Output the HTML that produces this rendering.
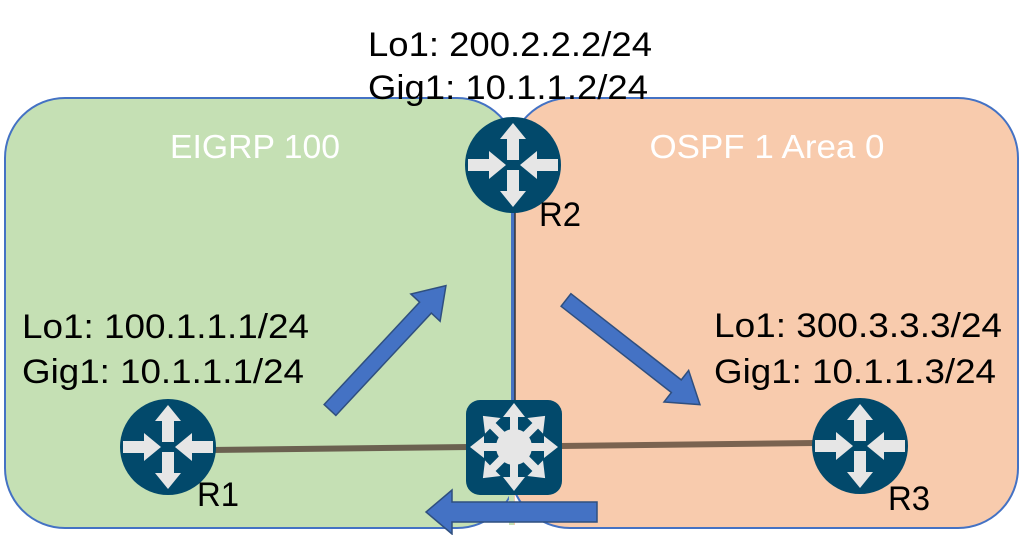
<!DOCTYPE html>
<html><head><meta charset="utf-8"><style>
html,body{margin:0;padding:0;background:#fff;width:1023px;height:535px;overflow:hidden}
svg text{font-family:"Liberation Sans",sans-serif}
</style></head><body>
<svg width="1023" height="535" viewBox="0 0 1023 535" xmlns="http://www.w3.org/2000/svg">
<defs>
<g id="rt">
<circle r="48" fill="#02496b"/>
<g fill="#e6e6e6">
<polygon points="0,-42 -13,-26 -6,-26 -6,-5 6,-5 6,-26 13,-26"/>
<polygon points="0,42 -13,26 -6,26 -6,5 6,5 6,26 13,26"/>
<polygon points="-7,0 -24,-14 -24,-6 -45,-6 -45,6 -24,6 -24,14"/>
<polygon points="7,0 24,-14 24,-6 45,-6 45,6 24,6 24,14"/>
</g>
</g>
</defs>
<rect x="5" y="98" width="512" height="430" rx="60" fill="#c5e0b4" stroke="#4472c4" stroke-width="2"/>
<rect x="510" y="98" width="508" height="430" rx="60" fill="#f8cbad" stroke="#4472c4" stroke-width="2"/>
<rect x="509" y="150" width="6" height="375" fill="#f8cbad"/>
<rect x="509" y="150" width="5" height="375" fill="#c5e0b4"/>
<text x="255" y="158" font-size="33" fill="#fff" text-anchor="middle" textLength="170" lengthAdjust="spacingAndGlyphs">EIGRP 100</text>
<text x="767" y="158" font-size="33" fill="#fff" text-anchor="middle" textLength="235" lengthAdjust="spacingAndGlyphs">OSPF 1 Area 0</text>
<line x1="513" y1="200" x2="513" y2="405" stroke="#4472c4" stroke-width="4"/>
<line x1="515" y1="200" x2="515" y2="405" stroke="#333" stroke-width="1.5"/>
<line x1="210" y1="450" x2="470" y2="447" stroke="#6b6150" stroke-width="6"/>
<line x1="560" y1="446" x2="815" y2="443" stroke="#7a6350" stroke-width="6"/>
<use href="#rt" x="513" y="165"/>
<use href="#rt" x="168" y="447"/>
<use href="#rt" x="860" y="446"/>
<rect x="466" y="400" width="96" height="95" rx="14" fill="#02496b"/>
<g transform="translate(514,447)" fill="#e6e6e6">
<circle r="18"/>
<g id="sp"><polygon points="0,-44 -11,-30 -4,-30 -4,-12 4,-12 4,-30 11,-30"/></g>
<use href="#sp" transform="rotate(45)"/><use href="#sp" transform="rotate(90)"/><use href="#sp" transform="rotate(135)"/>
<use href="#sp" transform="rotate(180)"/><use href="#sp" transform="rotate(225)"/><use href="#sp" transform="rotate(270)"/><use href="#sp" transform="rotate(315)"/>
</g>
<g fill="#4472c4" stroke="#2f4f7f" stroke-width="1.5">
<polygon transform="translate(330,410) rotate(-47)" points="0,-8 140,-8 140,-20 170,0 140,20 140,8 0,8"/>
<polygon transform="translate(566,300) rotate(38)" points="0,-8 140,-8 140,-20 170,0 140,20 140,8 0,8"/>
<polygon points="597,502 452,502 452,490 426,512 452,534 452,522 597,522"/>
</g>
<g font-size="34" fill="#000">
<text x="368" y="56" textLength="284" lengthAdjust="spacingAndGlyphs">Lo1: 200.2.2.2/24</text>
<text x="368" y="99" textLength="280" lengthAdjust="spacingAndGlyphs">Gig1: 10.1.1.2/24</text>
<text x="22" y="338" textLength="287" lengthAdjust="spacingAndGlyphs">Lo1: 100.1.1.1/24</text>
<text x="22" y="383" textLength="282" lengthAdjust="spacingAndGlyphs">Gig1: 10.1.1.1/24</text>
<text x="714" y="337" textLength="288" lengthAdjust="spacingAndGlyphs">Lo1: 300.3.3.3/24</text>
<text x="714" y="383" textLength="282" lengthAdjust="spacingAndGlyphs">Gig1: 10.1.1.3/24</text>
<text x="539" y="226" textLength="42" lengthAdjust="spacingAndGlyphs">R2</text>
<text x="197" y="506" textLength="42" lengthAdjust="spacingAndGlyphs">R1</text>
<text x="888" y="510" textLength="42" lengthAdjust="spacingAndGlyphs">R3</text>
</g>
</svg>
</body></html>
